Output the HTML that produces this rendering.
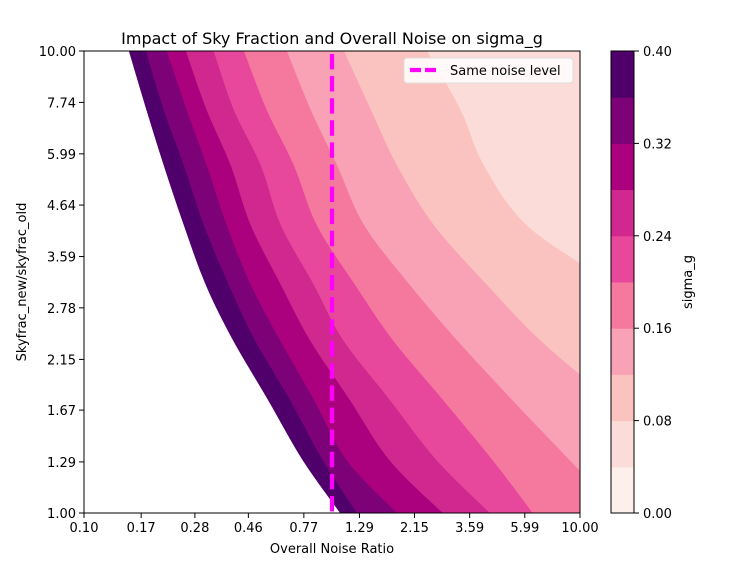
<!DOCTYPE html>
<html><head><meta charset="utf-8">
<style>
html,body{margin:0;padding:0;background:#fff;}
svg{display:block;font-family:"DejaVu Sans","Liberation Sans",sans-serif;}
</style></head>
<body>
<svg id="chart" width="746" height="562" viewBox="0 0 746 562" xmlns="http://www.w3.org/2000/svg">
<defs><clipPath id="plotclip"><rect x="84" y="51" width="496" height="462"/></clipPath></defs>
<rect x="0" y="0" width="746" height="562" fill="#fff"/>
<text x="332" y="44" text-anchor="middle" font-size="16" fill="#000">Impact of Sky Fraction and Overall Noise on sigma_g</text>
<g id="fills" clip-path="url(#plotclip)"></g>
<g id="axes"></g>
<text x="332" y="553" text-anchor="middle" font-size="13">Overall Noise Ratio</text>
<text transform="translate(26,282) rotate(-90)" text-anchor="middle" font-size="13">Skyfrac_new/skyfrac_old</text>
<g id="cbar"></g>
<text transform="translate(692,282) rotate(-90)" text-anchor="middle" font-size="13">sigma_g</text>
<g>
<rect x="404" y="58" width="169" height="25" rx="3" fill="#fff" fill-opacity="0.85" stroke="#ddd"/>
<line x1="410" y1="70" x2="440" y2="70" stroke="#ff00ff" stroke-width="4.2" stroke-dasharray="11 4"/>
<text x="450" y="75" font-size="13">Same noise level</text>
</g>
</svg>
<script>
// y rows (skyfrac ratio) at which contour boundaries were read
const rowsY = [10, 7.45, 5.66, 4.20, 3.12, 2.37, 1.76, 1.30, 1.00];
// contour levels and boundary x positions (noise ratio) per row
const levels = [0.40, 0.36, 0.32, 0.28, 0.24, 0.20, 0.16, 0.12, 0.08];
const b040 = [0.152, 0.179, 0.210, 0.253, 0.310, 0.399, 0.552, 0.764, 1.08];
const b036 = [0.178, 0.210, 0.253, 0.305, 0.384, 0.489, 0.677, 0.920, 1.26];
const b032 = [0.216, 0.260, 0.313, 0.377, 0.471, 0.617, 0.846, 1.15, 1.83];
const b028 = [0.258, 0.313, 0.391, 0.471, 0.623, 0.815, 1.18, 1.71, 2.80];
const b024 = [0.334, 0.403, 0.517, 0.623, 0.846, 1.11, 1.71, 2.65, 4.34];
const b020 = [0.442, 0.547, 0.703, 0.870, 1.24, 1.76, 2.80, 4.46, 6.46];
const b016 = [0.659, 0.823, 1.05, 1.35, 2.06, 3.19, 5.32, 9.12, 14.5];
const b012 = [1.12, 1.44, 1.83, 2.58, 4.22, 6.90, 13.2, 25.3, 44.2];
const b008 = [2.42, 3.31, 4.10, 6.11, 13.2, 21.0, 36.7, 77.1, 135];
const boundaries = [b040, b036, b032, b028, b024, b020, b016, b012, b008];
const xTicks = [0.1, 0.17, 0.28, 0.46, 0.77, 1.29, 2.15, 3.59, 5.99, 10];
const xTickLabels = ["0.10","0.17","0.28","0.46","0.77","1.29","2.15","3.59","5.99","10.00"];
const yTicks = [1, 1.29, 1.67, 2.15, 2.78, 3.59, 4.64, 5.99, 7.74, 10];
const yTickLabels = ["1.00","1.29","1.67","2.15","2.78","3.59","4.64","5.99","7.74","10.00"];
const cbarTicks = [0, 0.08, 0.16, 0.24, 0.32, 0.40];
const cbarTickLabels = ["0.00","0.08","0.16","0.24","0.32","0.40"];
const bandColors = ["#fdf0ec","#fcdcd8","#fbc3bf","#f9a1b5","#f5789f","#e8489c","#d0288f","#ac017e","#7d0177","#4f006b"];
const sameNoiseX = 1.0;

const NS = "http://www.w3.org/2000/svg";
const L = 84, R = 580, T = 51, B = 513;
const sx = v => L + (Math.log10(v) + 1) / 2 * (R - L);
const sy = v => B - Math.log10(v) * (B - T);
function mk(tag, attrs, parent) { const e = document.createElementNS(NS, tag); for (const k in attrs) e.setAttribute(k, attrs[k]); parent.appendChild(e); return e; }

function spline(pts) {
  let d = "";
  for (let i = 0; i < pts.length - 1; i++) {
    const p0 = pts[Math.max(i - 1, 0)], p1 = pts[i], p2 = pts[i + 1], p3 = pts[Math.min(i + 2, pts.length - 1)];
    const c1 = [p1[0] + (p2[0] - p0[0]) / 6, p1[1] + (p2[1] - p0[1]) / 6];
    const c2 = [p2[0] - (p3[0] - p1[0]) / 6, p2[1] - (p3[1] - p1[1]) / 6];
    d += ` C${c1[0].toFixed(1)},${c1[1].toFixed(1)} ${c2[0].toFixed(1)},${c2[1].toFixed(1)} ${p2[0].toFixed(1)},${p2[1].toFixed(1)}`;
  }
  return d;
}

const fills = document.getElementById("fills");
boundaries.forEach((bx, i) => {
  const pts = bx.map((v, j) => [sx(v), sy(rowsY[j])]);
  const d = `M${pts[0][0].toFixed(1)},${pts[0][1].toFixed(1)}` + spline(pts) + ` L2000,${pts[pts.length-1][1]} L2000,${pts[0][1]} Z`;
  const col = bandColors[9 - i];
  const p = mk("path", { d: d, fill: col, stroke: col, "stroke-width": 0.5 }, fills);
  
  
});

const axes = document.getElementById("axes");
const vl = mk("line", { x1: sx(sameNoiseX), x2: sx(sameNoiseX), y1: T + 3, y2: B, stroke: "#ff00ff", "stroke-width": 4.2, "stroke-dasharray": "15.4 6.7" }, axes);


const frame = mk("rect", { x: L, y: T, width: R - L, height: B - T, fill: "none", stroke: "#000", "stroke-width": 1 }, axes);


xTicks.forEach((v, i) => {
  const x = sx(v);
  const t = mk("line", { x1: x, x2: x, y1: B, y2: B + 5, stroke: "#000" }, axes);
  
  
  const lb = mk("text", { x: x, y: B + 19, "text-anchor": "middle", "font-size": 13 }, axes);
  lb.textContent = xTickLabels[i];
  
  
});
yTicks.forEach((v, i) => {
  const y = sy(v);
  const t = mk("line", { x1: L - 5, x2: L, y1: y, y2: y, stroke: "#000" }, axes);
  
  
  const lb = mk("text", { x: L - 8, y: y + 5, "text-anchor": "end", "font-size": 13 }, axes);
  lb.textContent = yTickLabels[i];
  
  
});

const cb = document.getElementById("cbar");
const CL = 611, CR = 634;
const cy = v => B - v / 0.40 * (B - T);
bandColors.forEach((c, i) => {
  const r = mk("rect", { x: CL, y: cy((i + 1) * 0.04), width: CR - CL, height: cy(i * 0.04) - cy((i + 1) * 0.04) + 0.5, fill: c }, cb);
  
  
});
const cf = mk("rect", { x: CL, y: T, width: CR - CL, height: B - T, fill: "none", stroke: "#000" }, cb);


cbarTicks.forEach((v, i) => {
  const y = cy(v);
  const t = mk("line", { x1: CR, x2: CR + 5, y1: y, y2: y, stroke: "#000" }, cb);
  
  
  const lb = mk("text", { x: CR + 9, y: y + 5, "font-size": 13 }, cb);
  lb.textContent = cbarTickLabels[i];
  
  
});
</script>
</body></html>
